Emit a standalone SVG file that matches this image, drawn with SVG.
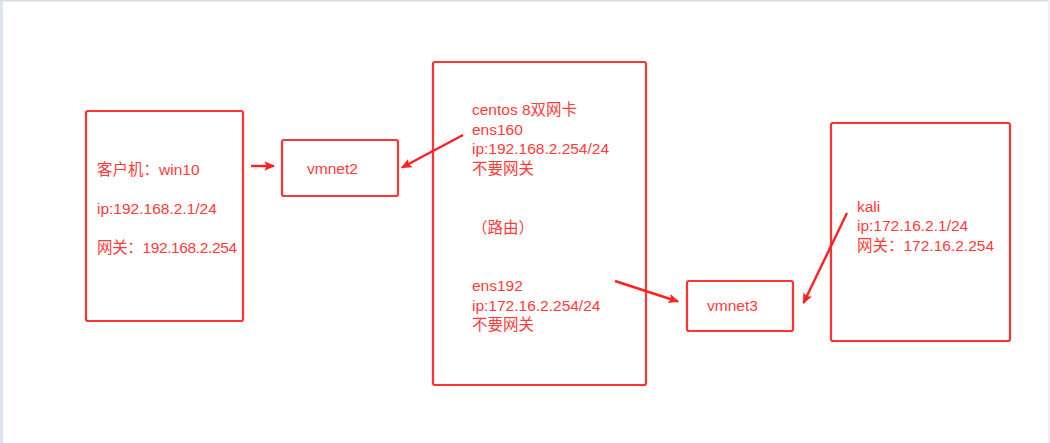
<svg xmlns="http://www.w3.org/2000/svg" width="1050" height="443" viewBox="0 0 1050 443">
<defs>
<style>
.box{fill:none;stroke:#ff3333;stroke-width:2.2}
.t{font-family:"Liberation Sans","Noto Sans CJK SC",sans-serif;font-size:15.5px;fill:#ff3b3b}
.arr{stroke:#ff2020;stroke-width:2.4;fill:none}
</style>
<marker id="ah" viewBox="0 0 10 10" refX="9" refY="5" markerWidth="4.4" markerHeight="4.4" orient="auto" markerUnits="strokeWidth">
<path d="M0,0.5 L10,5 L0,9.5 L2,5 z" fill="#ff2020"/>
</marker>
</defs>
<rect x="0" y="0" width="1050" height="443" fill="#ffffff"/>
<rect x="0" y="0" width="3" height="443" fill="#dde3ef"/>
<rect x="0" y="0" width="1050" height="1.5" fill="#d8dce4"/>
<rect x="1048" y="0" width="2" height="443" fill="#eceef2"/>

<g id="win10">
<rect class="box" x="86" y="111" width="157" height="210" rx="2"/>
<text class="t" x="97" y="175">客户机：win10</text>
<text class="t" x="97" y="214">ip:192.168.2.1/24</text>
<text class="t" x="97" y="253" textLength="140">网关：192.168.2.254</text>
</g>

<g id="vmnet2">
<rect class="box" x="282" y="140" width="116" height="56" rx="2"/>
<text class="t" x="307" y="174">vmnet2</text>
</g>

<g id="centos">
<rect class="box" x="433" y="62" width="213" height="323" rx="2"/>
<text class="t" x="472" y="115">centos 8双网卡</text>
<text class="t" x="472" y="134.5">ens160</text>
<text class="t" x="472" y="154">ip:192.168.2.254/24</text>
<text class="t" x="472" y="174">不要网关</text>
<text class="t" x="472" y="233">（路由）</text>
<text class="t" x="472" y="291">ens192</text>
<text class="t" x="472" y="310.5">ip:172.16.2.254/24</text>
<text class="t" x="472" y="330">不要网关</text>
</g>

<g id="vmnet3">
<rect class="box" x="687" y="281" width="106" height="50" rx="2"/>
<text class="t" x="707" y="311">vmnet3</text>
</g>

<g id="kali">
<rect class="box" x="831" y="123" width="179" height="218" rx="2"/>
<text class="t" x="857" y="212">kali</text>
<text class="t" x="857" y="231">ip:172.16.2.1/24</text>
<text class="t" x="857" y="251">网关：172.16.2.254</text>
</g>

<g id="connectors">
<line class="arr" x1="251" y1="166" x2="274" y2="166" marker-end="url(#ah)"/>
<line class="arr" x1="463" y1="135" x2="402" y2="167.5" marker-end="url(#ah)"/>
<line class="arr" x1="615" y1="281" x2="678" y2="301.5" marker-end="url(#ah)"/>
<line class="arr" x1="847" y1="213" x2="803.5" y2="303" marker-end="url(#ah)"/>
</g>
</svg>
